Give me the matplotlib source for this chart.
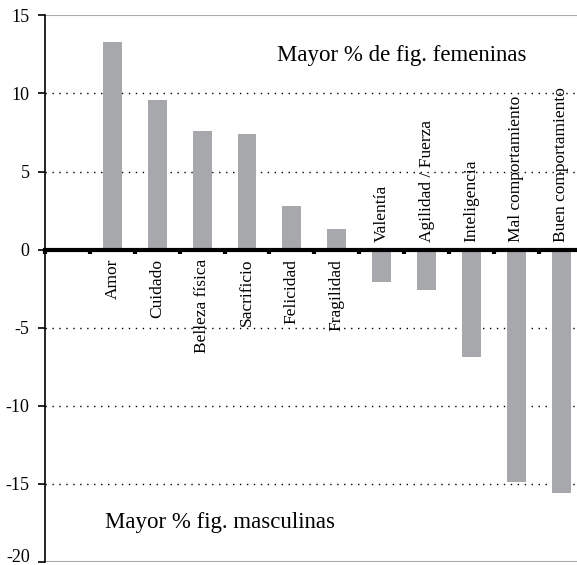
import numpy as np
import matplotlib.pyplot as plt
import matplotlib.transforms as mtransforms

# datos
categorias = ['', 'Amor', 'Cuidado', 'Belleza física', 'Sacrificio', 'Felicidad',
              'Fragilidad', 'Valentía', 'Agilidad / Fuerza', 'Inteligencia',
              'Mal comportamiento', 'Buen comportamiento']
valores = [np.nan, 13.3, 9.6, 7.6, 7.4, 2.8, 1.3, -2.1, -2.6, -6.9, -14.9, -15.6]
yticks = [-20, -15, -10, -5, 0, 5, 10, 15]

plt.rcParams['font.family'] = ['Liberation Serif', 'DejaVu Serif']

fig = plt.figure(figsize=(5.77, 5.65), dpi=100)
ax = fig.add_axes([0.078, 0.0053, 0.922, 0.9676])

x = np.arange(len(categorias))
ax.bar(x, valores, width=0.42, color='#a7a8ac', zorder=2)

ax.set_xlim(-0.5, 11.35)
ax.set_ylim(-20, 15)

# grid punteado
for v in [10, 5, -5, -10, -15]:
    ax.axhline(v, color='black', lw=1, ls=(0, (1, 4)), zorder=1)
ax.axhline(15, color='#aaaaaa', lw=1.5, zorder=1)
ax.axhline(-20, color='#aaaaaa', lw=1.5, zorder=1)

# eje x en cero
ax.spines['bottom'].set_position(('data', 0))
ax.spines['bottom'].set_linewidth(3)
ax.spines['bottom'].set_zorder(3)
ax.spines['top'].set_visible(False)
ax.spines['right'].set_visible(False)
ax.spines['left'].set_linewidth(1.2)
ax.set_xticks(np.arange(-0.5, 11.5, 1))
ax.set_xticklabels([])
ax.tick_params(axis='x', direction='out', length=3, width=3, color='black')

ax.set_yticks(yticks)
ax.set_yticklabels([str(t) for t in yticks], fontsize=13)
ax.tick_params(axis='y', direction='out', length=5, width=1.2, pad=6)
# subir un poco la etiqueta -20 para que no se corte
lab = ax.get_yticklabels()[0]
lab.set_transform(lab.get_transform() + mtransforms.ScaledTranslation(0, 5 / 72, fig.dpi_scale_trans))

for i in range(1, len(categorias)):
    if valores[i] > 0:
        ax.text(x[i], -0.6, categorias[i], rotation=90, ha='center', va='top', fontsize=12.5)
    else:
        ax.text(x[i], 0.5, categorias[i], rotation=90, ha='center', va='bottom', fontsize=12.5)

ax.text(7.45, 12.4, 'Mayor % de fig. femeninas', fontsize=16.5, va='center', ha='center')
ax.text(3.4, -17.5, 'Mayor % fig. masculinas', fontsize=16.5, va='center', ha='center')

plt.savefig('out.png', dpi=100)
